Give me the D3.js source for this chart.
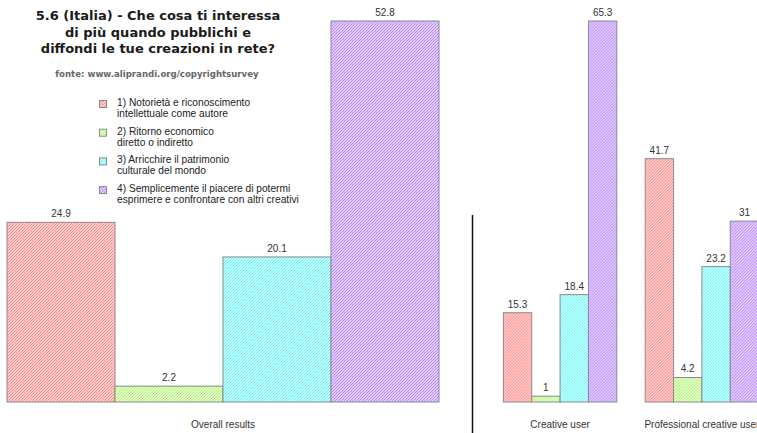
<!DOCTYPE html>
<html>
<head>
<meta charset="utf-8">
<script src="https://cdn.jsdelivr.net/npm/d3@7"></script>
<style>
  html, body { margin: 0; padding: 0; background: #fff; }
  svg { display: block; }
</style>
</head>
<body>
<svg id="chart" width="757" height="433"></svg>
<script>
// Survey answers (percent) per respondent group
const answers = ["1", "2", "3", "4"];
const legendLines = [
  ["1) Notorietà e riconoscimento", "intellettuale come autore"],
  ["2) Ritorno economico", "diretto o indiretto"],
  ["3) Arricchire il patrimonio", "culturale del mondo"],
  ["4) Semplicemente il piacere di potermi", "esprimere e confrontare con altri creativi"]
];
const overallGroups = ["Overall results"];
const overallValues = [24.9, 2.2, 20.1, 52.8];
const userGroups = ["Creative user", "Professional creative user"];
const creativeValues = [15.3, 1, 18.4, 65.3];
const professionalValues = [41.7, 4.2, 23.2, 31];

const titleLines = [
  "5.6 (Italia) - Che cosa ti interessa",
  "di più quando pubblichi e",
  "diffondi le tue creazioni in rete?"
];
const sourceText = "fonte: www.aliprandi.org/copyrightsurvey";

// Hatched fills: light base with denser diagonal stripes
const fills = [
  { base: "#ffcaca", line: "#ff8e8e" },
  { base: "#e2ffc4", line: "#b4ec84" },
  { base: "#c4ffff", line: "#6cf2f2" },
  { base: "#e2caff", line: "#b68cff" }
];

const svg = d3.select("#chart");
const defs = svg.append("defs");
fills.forEach((f, i) => {
  const p = defs.append("pattern")
    .attr("id", "hatch" + i)
    .attr("patternUnits", "userSpaceOnUse")
    .attr("width", 3).attr("height", 3);
  p.append("rect").attr("width", 3).attr("height", 3).attr("fill", f.base);
  p.append("path")
    .attr("d", "M-1,1 L1,-1 M0,3 L3,0 M2,4 L4,2")
    .attr("stroke", f.line).attr("stroke-width", 1);
});

const baseY = 402, topY = 21;
const color = d3.scaleOrdinal().domain(answers).range(answers.map((d, i) => `url(#hatch${i})`));

function drawPanel(groups, data, x0range, padding) {
  const g = svg.append("g");
  const x0 = d3.scaleBand().domain(groups).range(x0range)
    .paddingInner(padding).paddingOuter(padding);
  const x1 = d3.scaleBand().domain(answers).range([0, x0.bandwidth()]);
  const y = d3.scaleLinear()
    .domain([0, d3.max(data.flat())])
    .range([baseY, topY]);

  groups.forEach((grp, gi) => {
    const gg = g.append("g").attr("transform", `translate(${x0(grp)},0)`);
    const vals = data[gi].map((v, i) => ({ k: answers[i], v }));
    gg.selectAll("rect").data(vals).join("rect")
      .attr("x", d => x1(d.k))
      .attr("y", d => y(d.v))
      .attr("width", x1.bandwidth())
      .attr("height", d => baseY - y(d.v))
      .attr("fill", d => color(d.k))
      .attr("stroke", "#8a8a8a")
      .attr("stroke-width", 1);
    gg.selectAll("text.val").data(vals).join("text")
      .attr("class", "val")
      .attr("x", d => x1(d.k) + x1.bandwidth() / 2)
      .attr("y", d => y(d.v) - 5)
      .attr("text-anchor", "middle")
      .attr("font-family", "Liberation Sans, Arial, sans-serif")
      .attr("font-size", 10)
      .attr("fill", "#333")
      .text(d => d.v);
    gg.append("text")
      .attr("x", x0.bandwidth() / 2)
      .attr("y", 428)
      .attr("text-anchor", "middle")
      .attr("font-family", "Liberation Sans, Arial, sans-serif")
      .attr("font-size", 10)
      .attr("fill", "#333")
      .text(grp);
  });
}

drawPanel(overallGroups, [overallValues], [7, 439], 0);
drawPanel(userGroups, [creativeValues, professionalValues], [475, 787], 0.2);

// Separator between the two panels
svg.append("line")
  .attr("x1", 472.5).attr("x2", 472.5)
  .attr("y1", 215).attr("y2", 433)
  .attr("stroke", "#111").attr("stroke-width", 1.5);

// Title block
const title = svg.append("text")
  .attr("text-anchor", "middle")
  .attr("font-family", "DejaVu Sans, Verdana, sans-serif")
  .attr("font-weight", "bold")
  .attr("font-size", 13)
  .attr("fill", "#1a1a1a");
titleLines.forEach((t, i) => {
  title.append("tspan").attr("x", 158).attr("y", 20 + i * 16.5).text(t);
});
svg.append("text")
  .attr("x", 157).attr("y", 77)
  .attr("text-anchor", "middle")
  .attr("font-family", "DejaVu Sans, Verdana, sans-serif")
  .attr("font-weight", "bold")
  .attr("font-size", 8.6)
  .attr("fill", "#666")
  .text(sourceText);

// Legend
const legend = svg.append("g").attr("transform", "translate(99,100)");
legendLines.forEach((lines, i) => {
  const row = legend.append("g").attr("transform", `translate(0,${i * 28.7})`);
  row.append("rect")
    .attr("x", 0.5).attr("y", 0.5)
    .attr("width", 7).attr("height", 7)
    .attr("fill", color(answers[i]))
    .attr("stroke", "#8a8a8a").attr("stroke-width", 1);
  lines.forEach((l, j) => {
    row.append("text")
      .attr("x", 18).attr("y", 6 + j * 11)
      .attr("font-family", "Liberation Sans, Arial, sans-serif")
      .attr("font-size", 10.2)
      .attr("fill", "#222")
      .text(l);
  });
});
</script>
</body>
</html>
